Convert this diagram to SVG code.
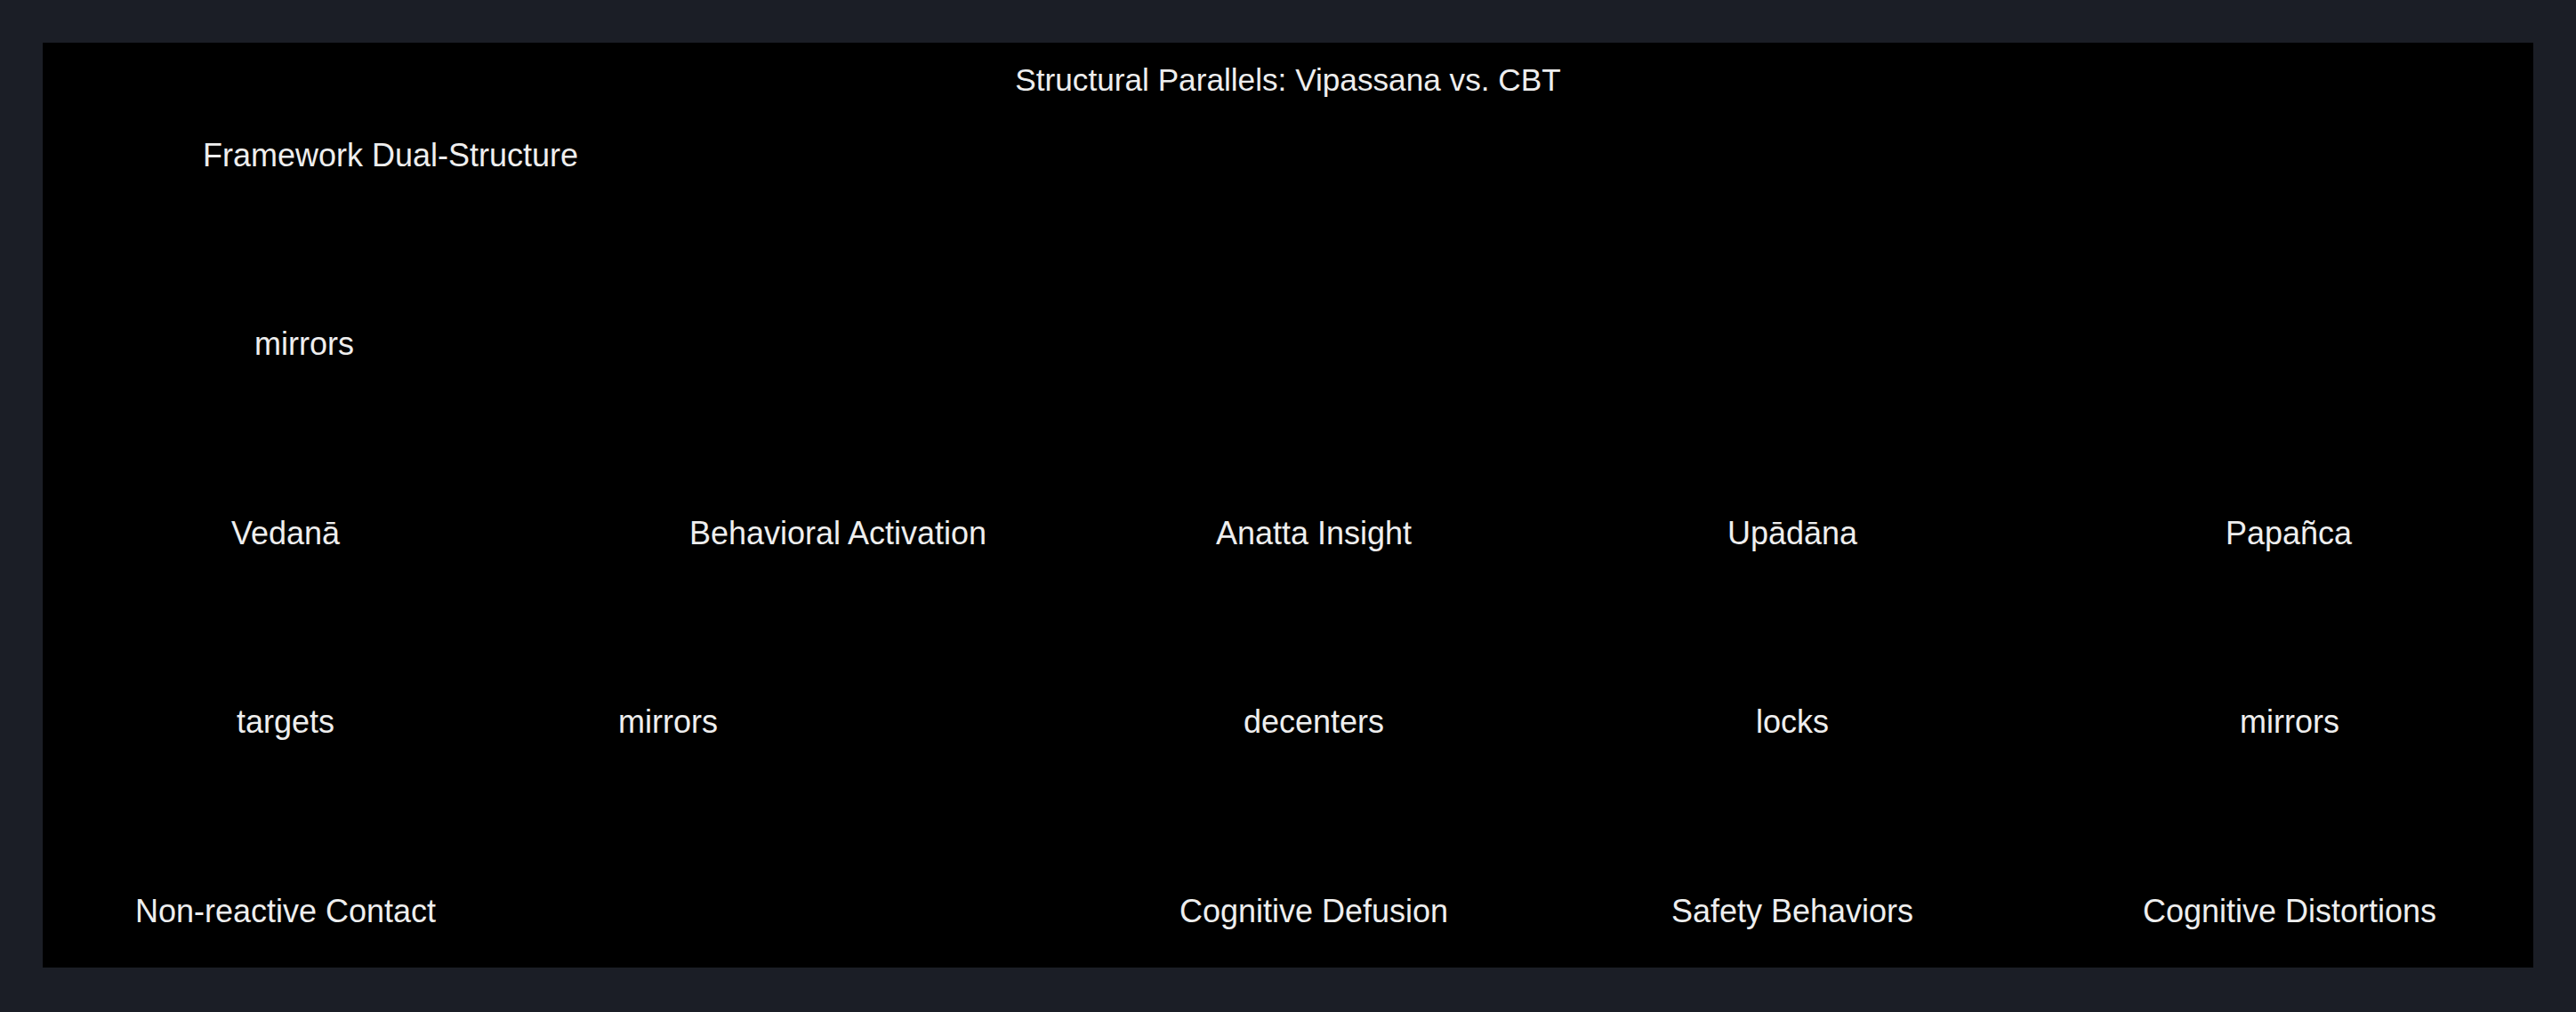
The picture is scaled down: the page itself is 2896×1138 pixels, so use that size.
<svg xmlns="http://www.w3.org/2000/svg" width="2896" height="1138" viewBox="0 0 2896 1138">
<style>
  text { font-family: "Liberation Sans", Arial, sans-serif; font-size: 36px; fill: #eeeeee; text-anchor: middle; }
  .title { font-size: 35.2px; }
</style>
<rect x="0" y="0" width="2896" height="1138" fill="#1b1e26"/>
<rect id="canvas" x="48" y="48" width="2800" height="1040" fill="#000000"/>
<text id="title" class="title" x="1448" y="102">Structural Parallels: Vipassana vs. CBT</text>
<g id="n-framework"><text x="439" y="187">Framework Dual-Structure</text></g>
<g id="n-vedana"><text x="321" y="612">Vedanā</text></g>
<g id="n-behavioral-activation"><text x="942" y="612">Behavioral Activation</text></g>
<g id="n-anatta"><text x="1477" y="612">Anatta Insight</text></g>
<g id="n-upadana"><text x="2015" y="612">Upādāna</text></g>
<g id="n-papanca"><text x="2573" y="612">Papañca</text></g>
<g id="n-nonreactive"><text x="321" y="1037">Non-reactive Contact</text></g>
<g id="n-defusion"><text x="1477" y="1037">Cognitive Defusion</text></g>
<g id="n-safety"><text x="2015" y="1037">Safety Behaviors</text></g>
<g id="n-distortions"><text x="2574" y="1037">Cognitive Distortions</text></g>
<g id="connectors">
  <text x="342" y="399">mirrors</text>
  <text x="321" y="824">targets</text>
  <text x="751" y="824">mirrors</text>
  <text x="1477" y="824">decenters</text>
  <text x="2015" y="824">locks</text>
  <text x="2574" y="824">mirrors</text>
</g>
</svg>
